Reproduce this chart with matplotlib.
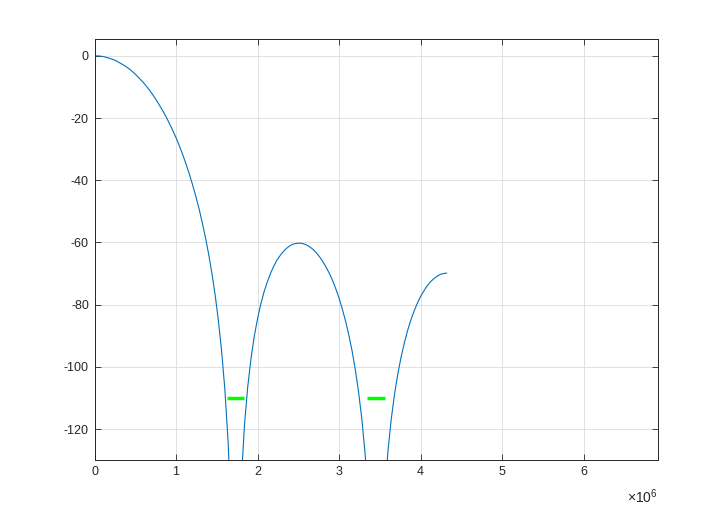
import matplotlib
matplotlib.use('Agg')
import matplotlib.pyplot as plt

# frequency (MHz) and magnitude (dB)
freq_mhz = [0, 0.04, 0.08, 0.12, 0.16, 0.2, 0.24, 0.28, 0.32, 0.36, 0.4, 0.44, 0.48, 0.52,
            0.56, 0.6, 0.64, 0.68, 0.72, 0.76, 0.8, 0.84, 0.88, 0.92, 0.96, 1.0, 1.04, 1.08,
            1.12, 1.16, 1.2, 1.24, 1.28, 1.32, 1.36, 1.4, 1.44, 1.48, 1.52, 1.56, 1.6, 1.64,
            1.68, 1.69, 1.7, 1.71, 1.72, 1.74, 1.75, 1.76, 1.8, 1.84, 1.88, 1.92, 1.96, 2.0,
            2.04, 2.08, 2.12, 2.16, 2.2, 2.24, 2.28, 2.32, 2.36, 2.4, 2.44, 2.48, 2.52, 2.56,
            2.6, 2.64, 2.68, 2.72, 2.76, 2.8, 2.84, 2.88, 2.92, 2.96, 3.0, 3.04, 3.08, 3.12,
            3.16, 3.2, 3.24, 3.28, 3.32, 3.36, 3.4, 3.42, 3.43, 3.44, 3.47, 3.48, 3.49, 3.52,
            3.56, 3.6, 3.64, 3.68, 3.72, 3.76, 3.8, 3.84, 3.88, 3.92, 3.96, 4.0, 4.04, 4.08,
            4.12, 4.16, 4.2, 4.24, 4.28, 4.3, 4.32]
mag_db = [0.0, -0.0, -0.1, -0.3, -0.6, -0.9, -1.3, -1.8, -2.4, -3.0, -3.7, -4.5, -5.4, -6.4,
          -7.5, -8.6, -9.9, -11.2, -12.7, -14.3, -16.0, -17.8, -19.7, -21.8, -24.0, -26.3,
          -28.9, -31.6, -34.6, -37.7, -41.2, -44.9, -48.9, -53.4, -58.3, -63.7, -69.9, -76.9,
          -85.2, -95.1, -107.6, -124.6, -151.7, -162.1, -175.5, -194.9, -230.4, -213.2,
          -187.1, -171.1, -136.8, -118.6, -106.3, -97.3, -90.2, -84.5, -79.8, -75.9, -72.7,
          -69.9, -67.6, -65.6, -64.1, -62.8, -61.8, -61.0, -60.5, -60.3, -60.2, -60.4, -60.8,
          -61.4, -62.2, -63.3, -64.6, -66.1, -67.9, -69.9, -72.2, -74.9, -77.9, -81.4, -85.3,
          -89.8, -94.9, -101.0, -108.2, -116.9, -128.1, -143.2, -166.7, -186.0, -200.1,
          -221.3, -227.2, -203.9, -188.8, -161.6, -140.8, -127.1, -116.9, -108.9, -102.4,
          -97.0, -92.4, -88.4, -85.0, -82.1, -79.6, -77.4, -75.6, -74.0, -72.7, -71.7, -70.9,
          -70.3, -70.0, -69.9, -69.9]

# green marker segments (MHz start, MHz end, level dB)
mark_start = [1.62, 3.348]
mark_end = [1.836, 3.564]
mark_level = [-110, -110]

x_ticks = [0, 1, 2, 3, 4, 5, 6]
y_ticks = [-120, -100, -80, -60, -40, -20, 0]

plt.rcParams['font.family'] = ['Liberation Sans', 'DejaVu Sans']
plt.rcParams['axes.unicode_minus'] = False
plt.rcParams['mathtext.fontset'] = 'custom'
plt.rcParams['mathtext.rm'] = 'Liberation Sans'

fig = plt.figure(figsize=(7.27, 5.17), dpi=100)
ax = fig.add_axes([0.13, 0.11, 0.775, 0.815])

ax.plot([f * 1e6 for f in freq_mhz], mag_db, color='#0072BD', linewidth=0.8)
for s, e, lv in zip(mark_start, mark_end, mark_level):
    ax.plot([s * 1e6, e * 1e6], [lv, lv], color='#00FF00', linewidth=2.5, solid_capstyle='butt')

ax.set_xlim(0, 6.912e6)
ax.set_ylim(-130, 5.5)
ax.set_xticks([t * 1e6 for t in x_ticks])
ax.set_xticklabels([str(t) for t in x_ticks])
ax.set_yticks(y_ticks)
ax.set_yticklabels([str(t) for t in y_ticks])

ax.grid(True, color='#dcdcdc', linewidth=0.6)
ax.set_axisbelow(True)
ax.tick_params(direction='in', length=4, width=0.6, colors='#262626', labelsize=9,
               top=True, right=True, pad=4)
for sp in ax.spines.values():
    sp.set_color('#262626')
    sp.set_linewidth(0.7)

fig.text(0.905, 0.027, r'$\times10^{6}$', ha='right', va='baseline', fontsize=10, color='#262626')

fig.savefig('out.png', dpi=100)
